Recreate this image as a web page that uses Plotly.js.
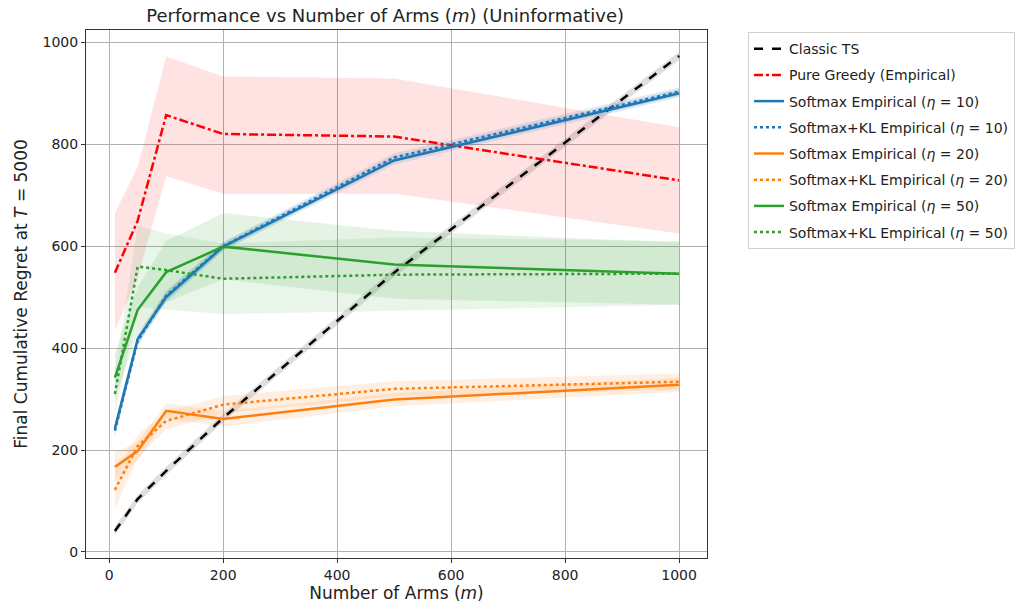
<!DOCTYPE html>
<html>
<head>
<meta charset="utf-8">
<script src="https://cdn.plot.ly/plotly-3.0.1.min.js"></script>
<style>html,body{margin:0;padding:0;background:#fff;}#chart{width:1027px;height:609px;}</style>
</head>
<body>
<div id="chart"></div>
<script>
const arms = [10, 50, 100, 200, 500, 1000];

const classicTS   = [41, 104, 159, 263, 548, 973];
const classicLo   = [33, 96, 151, 255, 540, 965];
const classicHi   = [49, 112, 167, 271, 556, 981];

const greedy      = [548, 650, 857, 820, 815, 729];
const greedyLo    = [434, 540, 737, 703, 703, 625];
const greedyHi    = [665, 755, 972, 933, 929, 833];

const sm10        = [242, 418, 500, 599, 768, 900];
const sm10Lo      = [230, 408, 490, 591, 760, 892];
const sm10Hi      = [254, 428, 510, 607, 776, 908];
const kl10        = [238, 414, 503, 600, 774, 903];
const kl10Lo      = [226, 404, 493, 592, 766, 895];
const kl10Hi      = [250, 424, 513, 608, 782, 911];

const sm20        = [167, 198, 277, 261, 299, 328];
const sm20Lo      = [140, 180, 262, 246, 286, 314];
const sm20Hi      = [195, 216, 292, 276, 312, 342];
const kl20        = [122, 208, 257, 289, 320, 334];
const kl20Lo      = [85, 185, 240, 272, 305, 318];
const kl20Hi      = [160, 230, 274, 306, 335, 350];

const sm50        = [342, 475, 549, 599, 564, 546];
const sm50Lo      = [300, 430, 490, 535, 497, 485];
const sm50Hi      = [390, 520, 610, 665, 630, 607];
const kl50        = [310, 560, 553, 536, 544, 546];
const kl50Lo      = [270, 480, 475, 467, 473, 485];
const kl50Hi      = [350, 640, 625, 605, 617, 610];

const series = [
  {name: 'Classic TS', y: classicTS, lo: classicLo, hi: classicHi, color: '#000000', dash: 'dash', band: 'rgba(128,128,128,0.25)'},
  {name: 'Pure Greedy (Empirical)', y: greedy, lo: greedyLo, hi: greedyHi, color: '#ff0000', dash: 'dashdot', band: 'rgba(255,0,0,0.11)'},
  {name: 'Softmax Empirical (<i>η</i> = 10)', y: sm10, lo: sm10Lo, hi: sm10Hi, color: '#1f77b4', dash: 'solid', band: 'rgba(31,119,180,0.15)'},
  {name: 'Softmax+KL Empirical (<i>η</i> = 10)', y: kl10, lo: kl10Lo, hi: kl10Hi, color: '#1f77b4', dash: 'dot', band: 'rgba(31,119,180,0.15)'},
  {name: 'Softmax Empirical (<i>η</i> = 20)', y: sm20, lo: sm20Lo, hi: sm20Hi, color: '#ff7f0e', dash: 'solid', band: 'rgba(255,127,14,0.12)'},
  {name: 'Softmax+KL Empirical (<i>η</i> = 20)', y: kl20, lo: kl20Lo, hi: kl20Hi, color: '#ff7f0e', dash: 'dot', band: 'rgba(255,127,14,0.12)'},
  {name: 'Softmax Empirical (<i>η</i> = 50)', y: sm50, lo: sm50Lo, hi: sm50Hi, color: '#2ca02c', dash: 'solid', band: 'rgba(44,160,44,0.12)'},
  {name: 'Softmax+KL Empirical (<i>η</i> = 50)', y: kl50, lo: kl50Lo, hi: kl50Hi, color: '#2ca02c', dash: 'dot', band: 'rgba(44,160,44,0.10)'}
];

const traces = [];
series.forEach((s, i) => {
  traces.push({x: arms, y: s.hi, mode: 'lines', line: {width: 0}, showlegend: false, hoverinfo: 'skip'});
  traces.push({x: arms, y: s.lo, mode: 'lines', line: {width: 0}, fill: 'tonexty', fillcolor: s.band, showlegend: false, hoverinfo: 'skip'});
});
series.forEach((s, i) => {
  traces.push({x: arms, y: s.y, mode: 'lines', name: s.name, legendgroup: 'g' + i,
    line: {color: s.color, width: 2.5, dash: s.dash}});
});

const font = {family: 'DejaVu Sans, sans-serif', color: '#222', size: 14};

const layout = {
  width: 1027, height: 609,
  margin: {l: 86, r: 317, t: 30, b: 51},
  paper_bgcolor: '#fff', plot_bgcolor: '#fff',
  font: font,
  title: {text: 'Performance vs Number of Arms (<i>m</i>) (Uninformative)', font: {family: 'DejaVu Sans, sans-serif', size: 18, color: '#222'}, x: 0.375, xanchor: 'center', y: 0.975, yanchor: 'middle'},
  xaxis: {
    range: [-40.7, 1049], tickvals: [0, 200, 400, 600, 800, 1000],
    showgrid: true, gridcolor: '#b0b0b0', gridwidth: 1,
    showline: true, linecolor: '#333', linewidth: 1, mirror: true,
    ticks: 'outside', ticklen: 4, tickcolor: '#333', zeroline: false,
    tickfont: {size: 14},
    title: {text: 'Number of Arms (<i>m</i>)', font: {size: 17, color: '#222'}, standoff: 5}
  },
  yaxis: {
    range: [-11.8, 1024], tickvals: [0, 200, 400, 600, 800, 1000],
    showgrid: true, gridcolor: '#b0b0b0', gridwidth: 1,
    showline: true, linecolor: '#333', linewidth: 1, mirror: true,
    ticks: 'outside', ticklen: 4, tickcolor: '#333', zeroline: false,
    tickfont: {size: 14},
    title: {text: 'Final Cumulative Regret at <i>T</i> = 5000', font: {size: 17, color: '#222'}, standoff: 10}
  },
  legend: {
    x: 1.066, y: 0.996, xanchor: 'left', yanchor: 'top',
    bgcolor: '#fff', bordercolor: '#d0d0d0', borderwidth: 1,
    font: {family: 'DejaVu Sans, sans-serif', size: 14, color: '#222'},
    traceorder: 'grouped', tracegroupgap: 5
  },
  showlegend: true
};

Plotly.newPlot('chart', traces, layout, {displayModeBar: false, staticPlot: true});
</script>
</body>
</html>
